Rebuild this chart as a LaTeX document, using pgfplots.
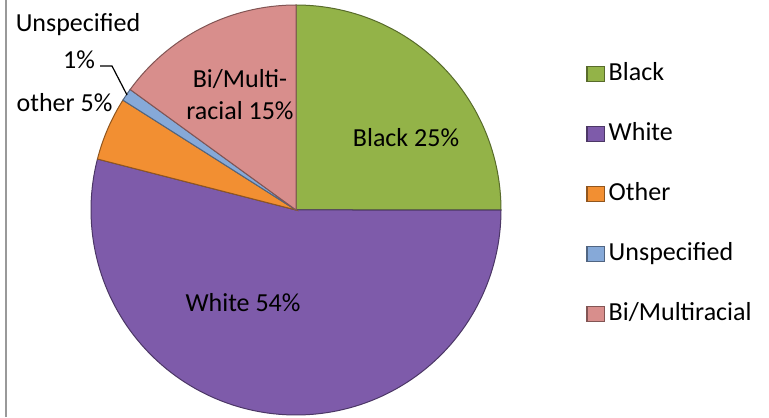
\documentclass[border=0pt]{standalone}
\usepackage{pgfplots}
\pgfplotsset{compat=1.18}
\usepackage{fontspec}
\setmainfont{Carlito}
\definecolor{cBlack}{HTML}{93B348}
\definecolor{cWhite}{HTML}{7E5BAA}
\definecolor{cOther}{HTML}{F28F32}
\definecolor{cUnsp}{HTML}{86A9D8}
\definecolor{cBi}{HTML}{D88E8C}
% percentages
\def\pBlack{25}
\def\pWhite{54}
\def\pOther{5}
\def\pUnsp{1}
\def\pBi{15}
\pgfmathsetmacro{\aA}{90}
\pgfmathsetmacro{\aB}{\aA-3.6*\pBlack}
\pgfmathsetmacro{\aC}{\aB-3.6*\pWhite}
\pgfmathsetmacro{\aD}{\aC-3.6*\pOther}
\pgfmathsetmacro{\aE}{\aD-3.6*\pUnsp}
\pgfmathsetmacro{\aF}{\aE-3.6*\pBi}
\def\cx{296}
\def\cy{207}
\def\rr{205}
\begin{document}
\begin{tikzpicture}
\begin{axis}[x=0.5pt, y=0.5pt, xmin=0, xmax=769, ymin=0, ymax=417,
  hide axis, clip=false, scale only axis,
  font=\fontsize{13}{15.6}\selectfont,
  legend style={at={(axis cs:586,356)}, anchor=north west, draw=none, fill=none,
    inner sep=0pt, row sep=17.5pt,
    nodes={inner sep=0pt, text height=9.5pt, text depth=3pt, anchor=west},
    font=\fontsize{13}{15.6}\selectfont},
  legend cell align=left,
  legend image code/.code={\fill[#1] (0pt,-3.8pt) rectangle (8.5pt,3.8pt);
     \draw[#1, draw opacity=1, line width=0.3pt] (0pt,-3.8pt) rectangle (8.5pt,3.8pt);},
]
\addplot[fill=cBlack, draw=cBlack!60!black, line width=0.5pt, domain=\aB:\aA, samples=60]
  ({\cx+\rr*cos(x)},{\cy+\rr*sin(x)}) -- (axis cs:\cx,\cy) -- cycle;
\addlegendentry{\,Black}
\addplot[fill=cWhite, draw=cWhite!60!black, line width=0.5pt, domain=\aC:\aB, samples=120]
  ({\cx+\rr*cos(x)},{\cy+\rr*sin(x)}) -- (axis cs:\cx,\cy) -- cycle;
\addlegendentry{\,White}
\addplot[fill=cOther, draw=cOther!60!black, line width=0.5pt, domain=\aD:\aC, samples=20]
  ({\cx+\rr*cos(x)},{\cy+\rr*sin(x)}) -- (axis cs:\cx,\cy) -- cycle;
\addlegendentry{\,Other}
\addplot[fill=cUnsp, draw=cUnsp!60!black, line width=0.5pt, domain=\aE:\aD, samples=5]
  ({\cx+\rr*cos(x)},{\cy+\rr*sin(x)}) -- (axis cs:\cx,\cy) -- cycle;
\addlegendentry{\,Unspecified}
\addplot[fill=cBi, draw=cBi!60!black, line width=0.5pt, domain=\aF:\aE, samples=40]
  ({\cx+\rr*cos(x)},{\cy+\rr*sin(x)}) -- (axis cs:\cx,\cy) -- cycle;
\addlegendentry{\,Bi/Multiracial}
% labels
\node at (axis cs:406,279) {Black 25\%};
\node at (axis cs:243,114) {White 54\%};
\node at (axis cs:240,338) {Bi/Multi-};
\node at (axis cs:240,306) {racial 15\%};
\node at (axis cs:78,392) {Unspecified};
\node at (axis cs:79,357) {1\%};
\node at (axis cs:64.5,314) {other 5\%};
\draw[black, line width=0.6pt] (axis cs:100,351) -- (axis cs:112,351) -- (axis cs:127,322);
\draw[gray!80, line width=1pt] (axis cs:5.5,0) -- (axis cs:5.5,417);
\end{axis}
\pgfresetboundingbox
\path (current axis.south west) rectangle (current axis.north east);
\end{tikzpicture}
\end{document}
